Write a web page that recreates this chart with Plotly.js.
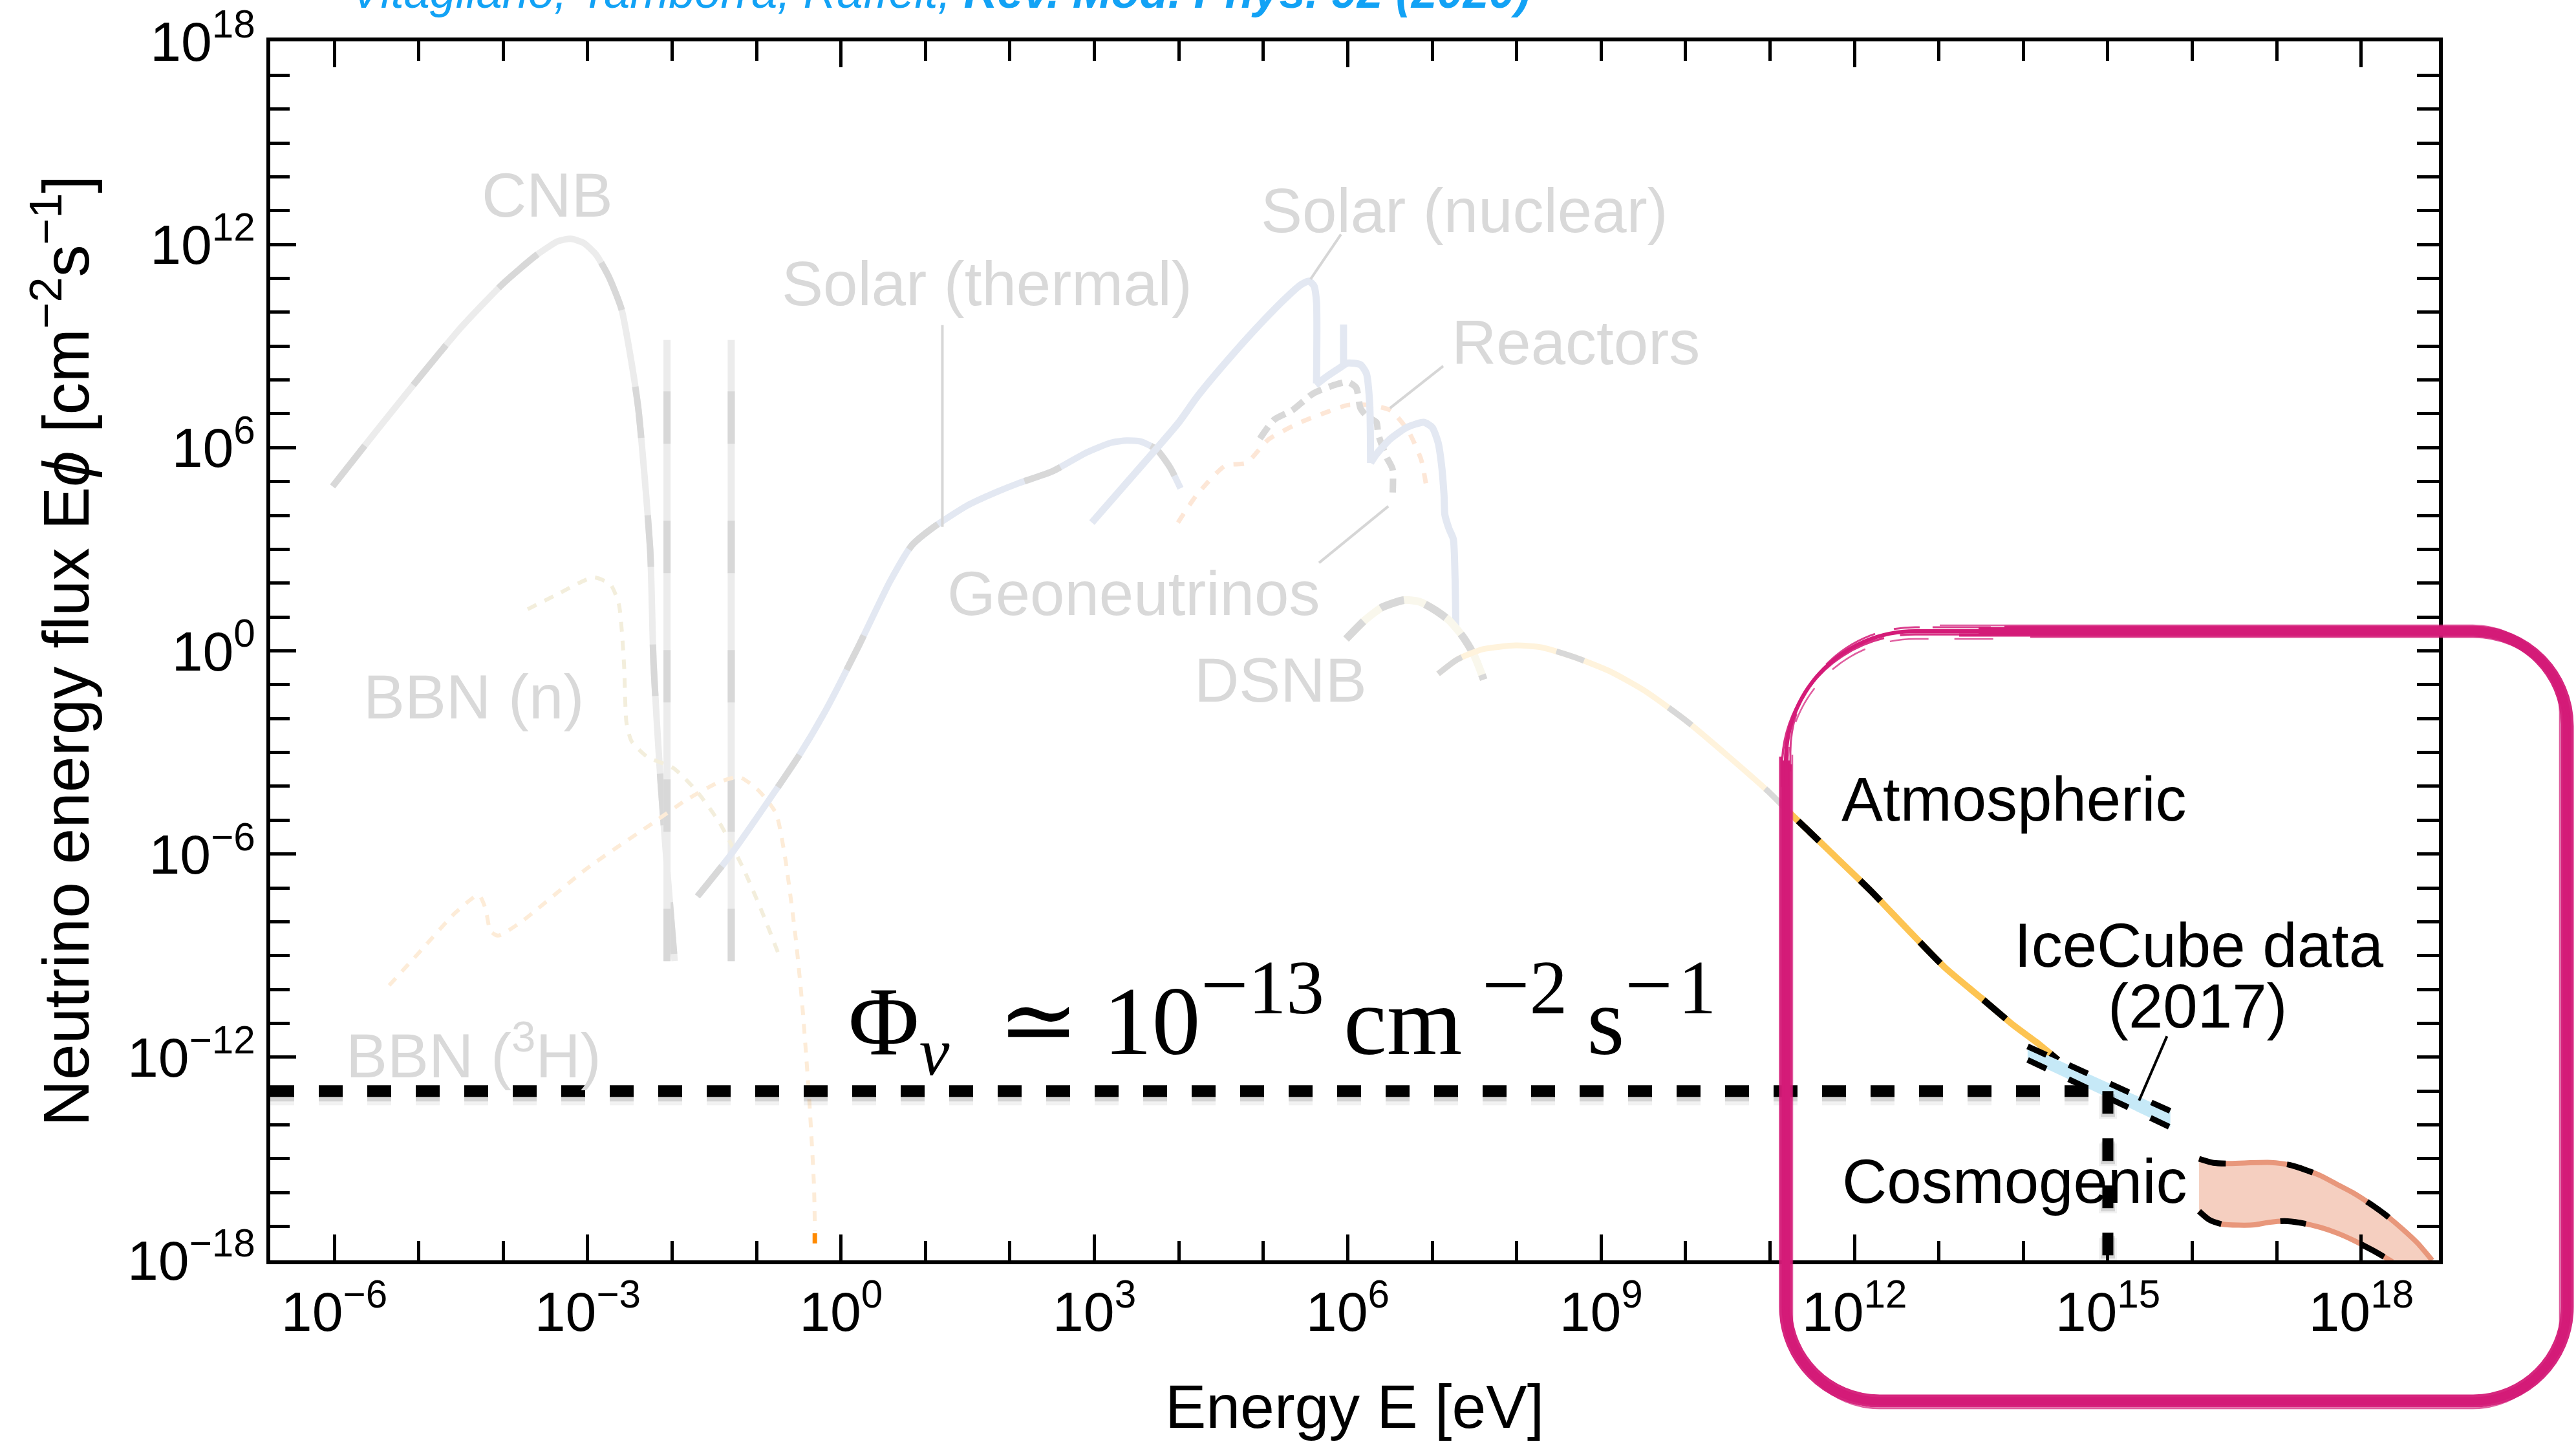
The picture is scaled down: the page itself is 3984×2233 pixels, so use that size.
<!DOCTYPE html>
<html>
<head>
<meta charset="utf-8">
<script src="https://cdn.plot.ly/plotly-3.0.1.min.js"></script>
<style>
html,body{margin:0;padding:0;background:#fff;}
#chart{width:3984px;height:2233px;}
</style>
</head>
<body>
<div id="chart"></div>
<script>
// ---------------- DATA (log10 of energy E [eV], log10 of energy flux E·Phi [cm^-2 s^-1]) ----------------
const xRangeExp = [-6.758, 18.92];
const yRangeExp = [-18, 18];

const xMajorTickExp = [-6, -3, 0, 3, 6, 9, 12, 15, 18];
const xTickLabels = ['10<sup>−6</sup>', '10<sup>−3</sup>', '10<sup>0</sup>', '10<sup>3</sup>', '10<sup>6</sup>',
                     '10<sup>9</sup>', '10<sup>12</sup>', '10<sup>15</sup>', '10<sup>18</sup>'];
const xTopMajorExp = [-6, 0, 6, 12, 18];
const yMajorTickExp = [18, 12, 6, 0, -6, -12, -18];
const yTickLabels = ['10<sup>18</sup>', '10<sup>12</sup>', '10<sup>6</sup>', '10<sup>0</sup>',
                     '10<sup>−6</sup>', '10<sup>−12</sup>', '10<sup>−18</sup>'];

// Cosmic neutrino background
const cnbE = [-6.02, -5.5, -5.0, -4.5, -4.0, -3.6, -3.35, -3.2, -3.05, -2.9, -2.75, -2.6, -2.5, -2.4, -2.26, -2.22, -2.14, -2.06, -1.97];
const cnbF = [4.86, 6.5, 8.05, 9.55, 10.85, 11.7, 12.1, 12.17, 12.05, 11.7, 11.05, 10.1, 8.8, 7.15, 3.0, -0.37, -3.73, -6.41, -9.16];
const cnbLinesE = [-2.06, -1.30];
const cnbLinesF = [-9.16, 9.18];

// Solar (thermal)
const solThE = [-1.70, -1.3, -0.81, -0.5, -0.18, 0.21, 0.58, 0.84, 1.10, 1.5, 1.85, 2.1, 2.5, 2.9, 3.2, 3.38, 3.55, 3.74, 3.9, 4.02];
const solThF = [-7.25, -6.0, -4.25, -3.1, -1.75, 0.15, 2.05, 3.12, 3.66, 4.3, 4.7, 4.95, 5.3, 5.85, 6.15, 6.21, 6.18, 5.94, 5.4, 4.8];

// Solar (nuclear)
const solPpE = [2.97, 3.5, 4.0, 4.215, 4.6, 5.0, 5.3, 5.45, 5.54, 5.6, 5.63, 5.63];
const solPpF = [3.79, 5.3, 6.75, 7.5, 8.65, 9.75, 10.5, 10.82, 10.92, 10.78, 10.3, 7.9];
const solBeE = [5.62, 5.75, 5.9, 6.0, 6.15, 6.22, 6.26, 6.27];
const solBeF = [7.85, 8.1, 8.35, 8.5, 8.45, 8.2, 7.3, 5.55];
const solSpikeE = [5.95, 5.95];
const solSpikeF = [9.64, 8.4];
const solBE = [6.27, 6.34, 6.5, 6.7, 6.9, 7.0, 7.07, 7.11, 7.14, 7.15, 7.2, 7.25, 7.27, 7.28];
const solBF = [5.55, 5.81, 6.25, 6.6, 6.75, 6.6, 6.15, 5.5, 4.6, 4.02, 3.6, 3.3, 2.2, 0.7];

// Reactors
const reacE = [3.99, 4.21, 4.55, 4.8, 5.06, 5.44, 5.75, 6.0, 6.26, 6.51, 6.72, 6.87, 6.93];
const reacF = [3.79, 4.6, 5.47, 5.55, 6.24, 6.75, 7.05, 7.26, 7.26, 7.1, 6.48, 5.64, 4.87];

// Geoneutrinos
const geoE = [4.96, 5.13, 5.34, 5.59, 5.85, 6.0, 6.1, 6.15, 6.23, 6.34, 6.36, 6.46, 6.53, 6.53];
const geoF = [6.27, 6.83, 7.1, 7.6, 7.86, 7.94, 7.77, 7.17, 6.92, 6.75, 6.4, 5.72, 5.37, 4.53];

// Diffuse supernova neutrino background
const dsnbE = [5.98, 6.2, 6.41, 6.67, 6.85, 7.03, 7.2, 7.36, 7.5, 7.61];
const dsnbF = [0.35, 0.9, 1.29, 1.5, 1.45, 1.21, 0.9, 0.43, -0.15, -0.85];

// Atmospheric (faded low-energy part and highlighted high-energy part)
const atmLowE = [7.07, 7.3, 7.6, 7.99, 8.3, 8.7, 9.1, 9.51, 10.0, 10.5, 11.0, 11.21];
const atmLowF = [-0.68, -0.25, 0.05, 0.16, 0.1, -0.2, -0.6, -1.17, -2.05, -3.1, -4.2, -4.73];
const atmE = [11.21, 11.7, 12.19, 12.6, 13.07, 13.5, 13.88, 14.15, 14.41];
const atmF = [-4.73, -5.9, -7.08, -8.15, -9.35, -10.25, -11.05, -11.55, -12.08];

// IceCube data (2017) band
const iceE = [14.05, 15.74];
const iceUpF = [-11.68, -13.59];
const iceLoF = [-12.08, -14.07];

// Cosmogenic band
const cosUpE = [16.08, 16.25, 16.42, 16.65, 16.93, 17.15, 17.32, 17.52, 17.71, 17.9, 18.1, 18.3, 18.49, 18.67, 18.84];
const cosUpF = [-15.0, -15.12, -15.14, -15.12, -15.11, -15.18, -15.31, -15.5, -15.75, -16.0, -16.32, -16.68, -17.08, -17.5, -18.0];
const cosLoE = [16.08, 16.2, 16.35, 16.55, 16.74, 16.9, 17.09, 17.3, 17.52, 17.72, 17.91, 18.14, 18.37];
const cosLoF = [-16.55, -16.8, -16.93, -16.96, -16.95, -16.88, -16.84, -16.9, -17.03, -17.2, -17.41, -17.71, -18.04];

// Big-bang nucleosynthesis
const bbnNE = [-3.71, -3.39, -2.93, -2.73, -2.63, -2.57, -2.54, -2.48, -2.30, -1.98, -1.71, -1.44, -1.16, -0.93, -0.74];
const bbnNF = [1.23, 1.63, 2.17, 1.96, 1.37, -0.37, -2.13, -2.67, -3.12, -3.47, -4.14, -5.07, -6.41, -7.74, -8.95];
const bbnHE = [-5.35, -4.96, -4.57, -4.29, -4.21, -4.15, -4.06, -3.79, -3.0, -2.22, -1.83, -1.44, -1.2, -0.97, -0.77, -0.66, -0.54, -0.46, -0.38, -0.32, -0.31];
const bbnHF = [-9.88, -8.81, -7.74, -7.21, -7.61, -8.28, -8.41, -8.01, -6.41, -5.07, -4.4, -3.87, -3.73, -4.14, -4.8, -6.14, -8.41, -10.42, -13.11, -15.79, -17.12];
const bbnTipE = [-0.31, -0.31];
const bbnTipF = [-17.2, -17.5];

// Reference flux level Phi_nu ~ 1e-13 at E = 1e15 eV
const phiLevelF = -13;
const phiLevelE = 15;

// Label leader lines
const leadThermalE = [1.2, 1.2],   leadThermalF = [9.62, 3.66];
const leadNuclearE = [5.56, 5.92], leadNuclearF = [10.98, 12.3];
const leadReacE = [6.5, 7.13],     leadReacF = [7.17, 8.41];
const leadGeoE = [6.48, 5.66],     leadGeoF = [4.27, 2.6];
const leadIceE = [15.70, 15.37],   leadIceF = [-11.38, -13.28];

// ---------------- STYLE / LAYOUT ----------------
const W = 3984, H = 2233;
const PL = 418, PR = 3772, PT = 64, PB = 1949;
const pxPerDec = (PB - PT) / (yRangeExp[1] - yRangeExp[0]);
const SANS = 'Liberation Sans, Arial, Helvetica, sans-serif';
const SERIF = 'Liberation Serif, DejaVu Serif, serif';

const P = v => Math.pow(10, v);
const pxX = x => (x - PL) / (PR - PL);
const pxY = y => (PB - y) / (PB - PT);

function line(E, F, color, width, dash, shape, extra) {
  return Object.assign({
    x: E.map(P), y: F.map(P), type: 'scatter', mode: 'lines',
    line: {color: color, width: width, dash: dash || 'solid', shape: shape || 'spline', smoothing: 0.6},
    hoverinfo: 'skip', showlegend: false
  }, extra || {});
}

const C = {
  grayBase: '#ececec', grayDash: '#d8d8d8', blue: '#e3e8f2', peach: '#fde7d7',
  paleYellow: '#f3eedc', bbnH: '#fdecd8', dsnbBase: '#f9f7ec', atmPale: '#fff3dc',
  atm: '#fdc452', ice: '#c6e9f7', cosFill: '#f5cfc0', cosEdge: '#e8977b',
  label: '#d9d9d9', lead: '#d6d6d6', pink: '#d41b78', cite: '#12a2f5', tip: '#ff8a00'
};

const traces = [];
// faded backgrounds
traces.push(line(cnbE, cnbF, C.grayBase, 10, 'solid'));
traces.push(line(cnbE, cnbF, C.grayDash, 10, '80px,120px'));
cnbLinesE.forEach(e => {
  traces.push(line([e, e], cnbLinesF, C.grayBase, 11, 'solid', 'linear'));
  traces.push(line([e, e], cnbLinesF, C.grayDash, 11, '81px,119px', 'linear'));
});
traces.push(line(bbnNE, bbnNF, C.paleYellow, 6, '15px,14px'));
traces.push(line(bbnHE, bbnHF, C.bbnH, 6, '15px,14px'));
traces.push(line(bbnTipE, bbnTipF, C.tip, 7, 'solid', 'linear'));
traces.push(line(solThE, solThF, C.blue, 10, 'solid'));
traces.push(line(solThE, solThF, C.grayDash, 10, '60px,150px'));
traces.push(line(reacE, reacF, C.peach, 7, '16px,16px'));
traces.push(line(geoE, geoF, C.grayDash, 10, '22px,12px'));
traces.push(line(solPpE, solPpF, C.blue, 11, 'solid'));
traces.push(line(solBeE, solBeF, C.blue, 11, 'solid'));
traces.push(line(solSpikeE, solSpikeF, C.blue, 11, 'solid', 'linear'));
traces.push(line(solBE, solBF, C.blue, 11, 'solid'));
traces.push(line(dsnbE, dsnbF, C.dsnbBase, 12, 'solid'));
traces.push(line(dsnbE, dsnbF, C.grayDash, 12, '38px,34px'));
traces.push(line(atmLowE, atmLowF, C.atmPale, 9, 'solid'));
traces.push(line(atmLowE, atmLowF, C.grayDash, 9, '45px,150px'));
// leader lines
[[leadThermalE, leadThermalF], [leadNuclearE, leadNuclearF], [leadReacE, leadReacF], [leadGeoE, leadGeoF]]
  .forEach(p => traces.push(line(p[0], p[1], C.lead, 4, 'solid', 'linear')));

// highlighted: atmospheric
traces.push(line(atmE, atmF, C.atm, 10, 'solid'));
traces.push(line(atmE, atmF, '#000', 10, '0px,22px,45px,66px'));
// IceCube band
traces.push({
  x: iceE.concat(iceE.slice().reverse()).map(P),
  y: iceUpF.concat(iceLoF.slice().reverse()).map(P),
  type: 'scatter', mode: 'lines', fill: 'toself', fillcolor: C.ice,
  line: {width: 0, color: C.ice}, hoverinfo: 'skip', showlegend: false
});
traces.push(line(iceE, iceUpF, '#000', 9, '32px,38px', 'linear'));
traces.push(line(iceE, iceLoF, '#000', 9, '32px,38px', 'linear'));
traces.push(line(leadIceE, leadIceF, '#000', 4, 'solid', 'linear'));
// Cosmogenic band
traces.push({
  x: cosUpE.concat(cosLoE.slice().reverse()).map(P),
  y: cosUpF.concat(cosLoF.slice().reverse()).map(P),
  type: 'scatter', mode: 'lines', fill: 'toself', fillcolor: C.cosFill,
  line: {width: 0, color: C.cosFill, shape: 'spline', smoothing: 0.6}, hoverinfo: 'skip', showlegend: false
});
traces.push(line(cosUpE, cosUpF, C.cosEdge, 8, 'solid'));
traces.push(line(cosLoE, cosLoF, C.cosEdge, 8, 'solid'));
traces.push(line(cosUpE, cosUpF, '#000', 9, '42px,95px'));
traces.push(line(cosLoE, cosLoF, '#000', 9, '40px,92px'));

// Phi reference level: soft shadow + black dashes
const hE = [xRangeExp[0], phiLevelE], hF = [phiLevelF, phiLevelF];
const vE = [phiLevelE, phiLevelE], vF = [phiLevelF, yRangeExp[0]];
[[28, 'rgba(0,0,0,0.05)', 8], [22, 'rgba(0,0,0,0.12)', 5]].forEach(s => {
  const d = s[2] / pxPerDec;
  traces.push(line(hE, hF.map(v => v - d), s[1], s[0], '37px,38px', 'linear'));
  traces.push(line(vE, vF.map(v => v - d), s[1], s[0], '35px,38px', 'linear'));
});
traces.push(line(hE, hF, '#000', 18, '37px,38px', 'linear'));
traces.push(line(vE, vF, '#000', 17, '35px,38px', 'linear'));

// dummy trace for the mirrored top/right axes
traces.push({x: [1], y: [1], xaxis: 'x2', yaxis: 'y2', type: 'scatter', mode: 'markers',
             marker: {opacity: 0}, hoverinfo: 'skip', showlegend: false});

const xAllDec = [], yAllDec = [];
for (let e = -6; e <= 18; e++) xAllDec.push(P(e));
for (let e = -18; e <= 18; e++) yAllDec.push(P(e));

const axisCommon = {
  type: 'log', showgrid: false, zeroline: false, showline: true, linecolor: '#000', linewidth: 6,
  ticks: 'inside', tickcolor: '#000', tickwidth: 5
};

// annotations
function ann(text, x, y, color, size, family, extra) {
  return Object.assign({text: text, x: pxX(x), y: pxY(y), xref: 'paper', yref: 'paper', showarrow: false,
    xanchor: 'center', yanchor: 'middle', font: {family: family || SANS, size: size, color: color}}, extra || {});
}
const sm = '<span style="font-size:125%">−</span>';
const sd = t => '<span style="font-size:112%">' + t + '</span>';
const phiText = 'Φ<sub><i>ν</i></sub>\u2002≃ 10<sup>' + sm + sd('13') + '</sup>\u2009cm\u2009<sup>' + sm + sd('2') +
                '</sup>\u2009s<sup>' + sm + '\u200a' + sd('1') + '</sup>';
const annotations = [
  ann('<i>Vitagliano, Tamborra, Raffelt, <b>Rev. Mod. Phys. 92 (2020)</b></i>', 1454, -13, C.cite, 72),
  ann('CNB', 846, 302, C.label, 96),
  ann('Solar (thermal)', 1526, 438, C.label, 96),
  ann('Solar (nuclear)', 2265, 326, C.label, 96),
  ann('Reactors', 2437, 529, C.label, 96),
  ann('Geoneutrinos', 1753, 917, C.label, 96),
  ann('DSNB', 1980, 1051, C.label, 96),
  ann('BBN (n)', 732, 1077, C.label, 96),
  ann('BBN (<sup>3</sup>H)', 732, 1625, C.label, 96),
  ann('Atmospheric', 3115, 1236, '#000', 96),
  ann('IceCube data', 3401, 1461, '#000', 96),
  ann('(2017)', 3399, 1555, '#000', 96),
  ann('Cosmogenic', 3116, 1827, '#000', 96),
  ann(phiText, 1310, 1567, '#000', 150, SERIF, {xanchor: 'left'})
];

// hand-drawn pink rounded rectangle (brush-like, several jittered strokes)
const K = 0.5523;
function f2(p) { return pxX(p[0]).toFixed(5) + ',' + pxY(p[1]).toFixed(5); }
function boxMainPath(l, t, r, b, rTL, rR, x0) {
  // clockwise from the top edge (x0) to the start of the top-left corner
  const k = K * rR;
  return 'M ' + f2([x0, t]) + ' L ' + f2([r - rR, t]) +
    ' C ' + f2([r - rR + k, t]) + ' ' + f2([r, t + rR - k]) + ' ' + f2([r, t + rR]) +
    ' L ' + f2([r, b - rR]) +
    ' C ' + f2([r, b - rR + k]) + ' ' + f2([r - rR + k, b]) + ' ' + f2([r - rR, b]) +
    ' L ' + f2([l + rR, b]) +
    ' C ' + f2([l + rR - k, b]) + ' ' + f2([l, b - rR + k]) + ' ' + f2([l, b - rR]) +
    ' L ' + f2([l, t + rTL]);
}
function boxCornerPath(l, t, rTL, x0) {
  const kt = K * rTL;
  return 'M ' + f2([l, t + rTL + 30]) + ' L ' + f2([l, t + rTL]) +
    ' C ' + f2([l, t + rTL - kt]) + ' ' + f2([l + rTL - kt, t]) + ' ' + f2([l + rTL, t]) +
    ' L ' + f2([x0, t]);
}
const BOX = {l: 2762, t: 976, r: 3970, b: 2167, rTL: 200, rR: 145, x0: 3060};
const mainStrokes = [
  {dl: 0, dt: 0, dr: 0, db: 0, w: 13, o: 1, sx: 0},
  {dl: -8, dt: -6, dr: 8, db: 7, w: 5, o: 0.95, sx: 40},
  {dl: 7, dt: 6, dr: -7, db: -8, w: 5, o: 0.95, sx: -30},
  {dl: -4, dt: 9, dr: 4, db: -4, w: 3, o: 0.8, sx: 80},
  {dl: 10, dt: -9, dr: -11, db: 11, w: 2.5, o: 0.7, sx: -60}
];
const cornerStrokes = [
  {dl: 0, dt: 0, w: 6, o: 1, dash: 'solid'},
  {dl: -6, dt: 5, w: 3.5, o: 0.9, dash: '140px,25px'},
  {dl: 7, dt: -6, w: 3, o: 0.85, dash: '90px,30px,40px,20px'},
  {dl: 3, dt: 12, w: 2.5, o: 0.7, dash: '60px,40px'}
];
const shapes = [];
mainStrokes.forEach(s => shapes.push({
  type: 'path', xref: 'paper', yref: 'paper', layer: 'above', opacity: s.o,
  path: boxMainPath(BOX.l + s.dl, BOX.t + s.dt, BOX.r + s.dr, BOX.b + s.db, BOX.rTL, BOX.rR - (s.dl - s.dr) / 2, BOX.x0 + s.sx),
  line: {color: C.pink, width: s.w}
}));
cornerStrokes.forEach(s => shapes.push({
  type: 'path', xref: 'paper', yref: 'paper', layer: 'above', opacity: s.o,
  path: boxCornerPath(BOX.l + s.dl, BOX.t + s.dt, BOX.rTL - s.dl, BOX.x0 + 30),
  line: {color: C.pink, width: s.w, dash: s.dash}
}));

const layout = {
  width: W, height: H,
  margin: {l: PL, r: W - PR, t: PT, b: H - PB, pad: 0},
  paper_bgcolor: '#fff', plot_bgcolor: '#fff',
  showlegend: false,
  font: {family: SANS, color: '#000'},
  xaxis: Object.assign({}, axisCommon, {
    range: xRangeExp, tickmode: 'array', tickvals: xMajorTickExp.map(P), ticktext: xTickLabels,
    ticklen: 40, tickfont: {family: SANS, size: 86, color: '#000'},
    minor: {tickmode: 'array', tickvals: xAllDec, ticks: 'inside', ticklen: 30, tickwidth: 5, tickcolor: '#000'},
    title: {text: 'Energy E [eV]', font: {family: SANS, size: 95, color: '#000'}, standoff: 68}
  }),
  yaxis: Object.assign({}, axisCommon, {
    range: yRangeExp, tickmode: 'array', tickvals: yMajorTickExp.map(P), ticktext: yTickLabels,
    ticklen: 40, tickfont: {family: SANS, size: 86, color: '#000'},
    minor: {tickmode: 'array', tickvals: yAllDec, ticks: 'inside', ticklen: 30, tickwidth: 5, tickcolor: '#000'},
    title: {text: 'Neutrino energy flux E<i>ϕ</i> [cm<sup>−2</sup>s<sup>−1</sup>]',
            font: {family: SANS, size: 100, color: '#000'}, standoff: 28}
  }),
  xaxis2: Object.assign({}, axisCommon, {
    overlaying: 'x', side: 'top', anchor: 'y', range: xRangeExp, showticklabels: false,
    tickmode: 'array', tickvals: xTopMajorExp.map(P), ticklen: 40,
    minor: {tickmode: 'array', tickvals: xAllDec, ticks: 'inside', ticklen: 30, tickwidth: 5, tickcolor: '#000'}
  }),
  yaxis2: Object.assign({}, axisCommon, {
    overlaying: 'y', side: 'right', anchor: 'x', range: yRangeExp, showticklabels: false,
    tickmode: 'array', tickvals: yAllDec, ticklen: 34
  }),
  annotations: annotations,
  shapes: shapes
};

Plotly.newPlot('chart', traces, layout, {displayModeBar: false, staticPlot: true});
</script>
</body>
</html>
